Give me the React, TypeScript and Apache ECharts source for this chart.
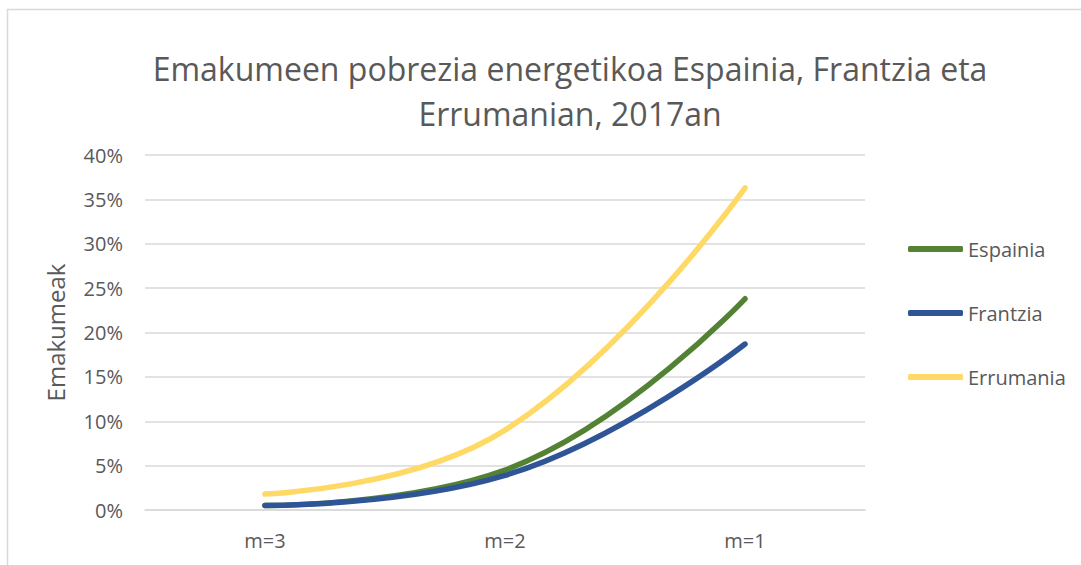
import React, { useEffect, useRef } from "react";
import * as echarts from "echarts";

const categories = ["m=3", "m=2", "m=1"];
const espainia = [0.005, 0.045, 0.238];
const frantzia = [0.005, 0.039, 0.187];
const errumania = [0.018, 0.09, 0.363];
const seriesNames = ["Espainia", "Frantzia", "Errumania"];
const seriesColors = ["#548235", "#2f5597", "#ffd966"];

const FONT = "'Open Sans', 'Noto Sans', sans-serif";
const TEXT = "#595959";

export default function App() {
  const ref = useRef<HTMLDivElement>(null);
  useEffect(() => {
    if (!ref.current) return;
    const chart = echarts.init(ref.current, undefined, { renderer: "svg" });
    const data = [espainia, frantzia, errumania];
    chart.setOption({
      animation: false,
      backgroundColor: "#ffffff",
      title: {
        text: "Emakumeen pobrezia energetikoa Espainia, Frantzia eta\nErrumanian, 2017an",
        left: 570,
        textAlign: "center",
        top: 46,
        padding: 0,
        textStyle: {
          fontFamily: FONT,
          fontSize: 32,
          fontWeight: "normal",
          color: TEXT,
          lineHeight: 45,
        },
      },
      legend: {
        orient: "vertical",
        left: 908,
        top: 237,
        padding: 0,
        itemWidth: 55,
        itemHeight: 6,
        itemGap: 40,
        icon: "roundRect",
        data: seriesNames,
        textStyle: { fontFamily: FONT, fontSize: 20, color: TEXT, lineHeight: 24 },
      },
      grid: { left: 145, right: 216, top: 155, bottom: 55 },
      xAxis: {
        type: "category",
        data: categories,
        boundaryGap: true,
        axisLine: { lineStyle: { color: "#d9d9d9", width: 1.5 } },
        axisTick: { show: false },
        axisLabel: { fontFamily: FONT, fontSize: 20, color: TEXT, margin: 20 },
      },
      yAxis: {
        type: "value",
        min: 0,
        max: 0.4,
        interval: 0.05,
        name: "Emakumeak",
        nameLocation: "middle",
        nameGap: 78,
        nameTextStyle: { fontFamily: FONT, fontSize: 24, color: TEXT },
        axisLine: { show: false },
        axisTick: { show: false },
        splitLine: { lineStyle: { color: "#d9d9d9", width: 1.5 } },
        axisLabel: {
          fontFamily: FONT,
          fontSize: 20,
          color: TEXT,
          margin: 22,
          formatter: (v: number) => Math.round(v * 100) + "%",
        },
      },
      series: seriesNames.map((name, i) => ({
        name,
        type: "line",
        data: data[i],
        smooth: 0.45,
        symbol: "none",
        color: seriesColors[i],
        lineStyle: { width: 5.5, color: seriesColors[i], cap: "round" },
        itemStyle: { color: seriesColors[i] },
      })),
      graphic: [
        {
          type: "rect",
          shape: { x: 7.5, y: 9.5, width: 1200, height: 700 },
          style: { fill: "none", stroke: "#d9d9d9", lineWidth: 1.5 },
          silent: true,
        },
      ],
    });
    return () => chart.dispose();
  }, []);
  return (
    <div
      ref={ref}
      style={{ position: "fixed", left: 0, top: 0, width: 1081, height: 565 }}
    />
  );
}
